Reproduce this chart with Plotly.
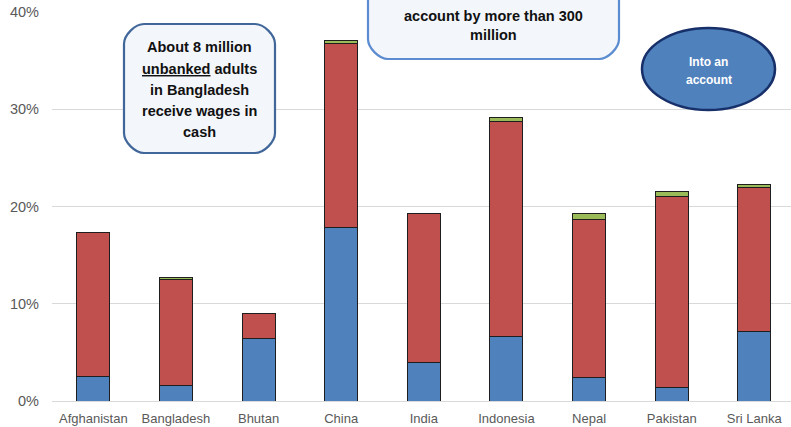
import plotly.graph_objects as go

countries = ["Afghanistan", "Bangladesh", "Bhutan", "China", "India",
             "Indonesia", "Nepal", "Pakistan", "Sri Lanka"]
into_account = [2.5, 1.6, 6.4, 17.8, 4.0, 6.6, 2.4, 1.4, 7.1]
in_cash = [14.8, 10.9, 2.6, 19.0, 15.3, 22.1, 16.3, 19.6, 14.9]
other = [0.0, 0.2, 0.0, 0.3, 0.0, 0.5, 0.55, 0.55, 0.25]
y_ticks = [0, 10, 20, 30, 40]
y_tick_labels = ["0%", "10%", "20%", "30%", "40%"]

W, H = 791, 427
ML, MR, MT, MB = 52, 0, 12, 26
PW, PH = W - ML - MR, H - MT - MB
FONT = "Liberation Sans, Arial, sans-serif"


def px(x):
    return (x - ML) / PW


def py(y):
    return (H - MB - y) / PH


def rrect(x0, y0, x1, y1, r):
    k = 0.45
    pts = [
        f"M {px(x0 + r)},{py(y0)}",
        f"L {px(x1 - r)},{py(y0)}",
        f"C {px(x1 - r + k * r)},{py(y0)} {px(x1)},{py(y0 + r - k * r)} {px(x1)},{py(y0 + r)}",
        f"L {px(x1)},{py(y1 - r)}",
        f"C {px(x1)},{py(y1 - r + k * r)} {px(x1 - r + k * r)},{py(y1)} {px(x1 - r)},{py(y1)}",
        f"L {px(x0 + r)},{py(y1)}",
        f"C {px(x0 + r - k * r)},{py(y1)} {px(x0)},{py(y1 - r + k * r)} {px(x0)},{py(y1 - r)}",
        f"L {px(x0)},{py(y0 + r)}",
        f"C {px(x0)},{py(y0 + r - k * r)} {px(x0 + r - k * r)},{py(y0)} {px(x0 + r)},{py(y0)}",
        "Z",
    ]
    return " ".join(pts)


fig = go.Figure()
line = dict(color="#1e1e1e", width=1)
fig.add_bar(x=countries, y=into_account, name="Into an account",
            marker=dict(color="#4f81bd", line=line), width=0.4)
fig.add_bar(x=countries, y=in_cash, name="In cash",
            marker=dict(color="#c0504d", line=line), width=0.4)
fig.add_bar(x=countries, y=other, name="Other",
            marker=dict(color="#9bbb59", line=line), width=0.4)

shapes = [
    dict(type="path", xref="paper", yref="paper",
         path=rrect(124, 24, 275, 153, 20),
         fillcolor="#f3f6fb", line=dict(color="#41679a", width=2.2), layer="above"),
    dict(type="path", xref="paper", yref="paper",
         path=rrect(368, -40, 619, 59, 20),
         fillcolor="#f3f6fb", line=dict(color="#5b8bd0", width=2.2), layer="above"),
    dict(type="circle", xref="paper", yref="paper",
         x0=px(642), x1=px(775), y0=py(28), y1=py(110),
         fillcolor="#4f81bd", line=dict(color="#17306a", width=2.5), layer="above"),
]

annotations = []
box1_lines = ["About 8 million", "<u>unbanked</u> adults", "in Bangladesh",
              "receive wages in", "cash"]
for i, t in enumerate(box1_lines):
    annotations.append(dict(text=t, xref="paper", yref="paper", x=px(199.5),
                            y=py(47.5 + i * 21), showarrow=False,
                            xanchor="center", yanchor="middle",
                            font=dict(family=FONT, size=14.5, color="#111111",
                                      weight="bold")))
box2_lines = ["account by more than 300", "million"]
for i, t in enumerate(box2_lines):
    annotations.append(dict(text=t, xref="paper", yref="paper", x=px(493.5),
                            y=py(15.5 + i * 19.5), showarrow=False,
                            xanchor="center", yanchor="middle",
                            font=dict(family=FONT, size=14.5, color="#111111",
                                      weight="bold")))
ell_lines = ["Into an", "account"]
for i, t in enumerate(ell_lines):
    annotations.append(dict(text=t, xref="paper", yref="paper", x=px(708.5),
                            y=py(62 + i * 17.5), showarrow=False,
                            xanchor="center", yanchor="middle",
                            font=dict(family=FONT, size=12, color="#ffffff",
                                      weight="bold")))

fig.update_layout(
    width=W, height=H,
    margin=dict(l=ML, r=MR, t=MT, b=MB, pad=0),
    barmode="stack",
    showlegend=False,
    plot_bgcolor="#ffffff",
    paper_bgcolor="#ffffff",
    shapes=shapes,
    annotations=annotations,
    font=dict(family=FONT, color="#595959"),
)
fig.update_xaxes(type="category", range=[-0.5, 8.444], showgrid=False,
                 showline=False, ticks="", zeroline=False,
                 ticklabelstandoff=8,
                 tickfont=dict(family=FONT, size=13, color="#595959"))
fig.update_yaxes(range=[0, 40], tickvals=y_ticks, ticktext=y_tick_labels,
                 showgrid=True, gridcolor="#d9d9d9", gridwidth=1,
                 zeroline=True, zerolinecolor="#d9d9d9", zerolinewidth=1,
                 showline=False, ticks="", ticklabelstandoff=12,
                 tickfont=dict(family=FONT, size=14.5, color="#595959"))

fig.write_html("out.html", config={"displayModeBar": False},
               post_script="document.body.style.margin='0';"
                           "document.body.style.overflow='hidden';")
